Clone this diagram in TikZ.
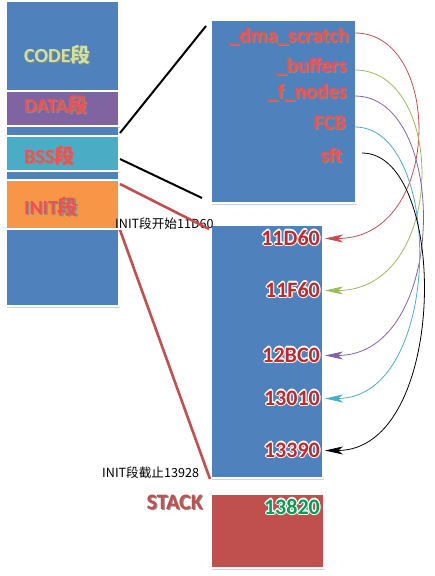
\documentclass[tikz,border=0pt]{standalone}
\usepackage{fontspec}
\setmainfont{Carlito}
\newfontfamily\cjk{Noto Sans CJK SC}
\usetikzlibrary{arrows.meta,shadows}

\definecolor{segblue}{HTML}{4F81BD}
\definecolor{segpurple}{HTML}{8064A2}
\definecolor{segcyan}{HTML}{4BACC6}
\definecolor{segorange}{HTML}{F79646}
\definecolor{segred}{HTML}{C0504D}
\definecolor{seggreen}{HTML}{9BBB59}
\definecolor{labred}{HTML}{F05050}
\definecolor{codegreen}{HTML}{D0E39A}
\definecolor{numred}{HTML}{C0282D}
\definecolor{numgreen}{HTML}{00A050}

% text with a soft drop shadow
\newcommand\shadowed[2]{\makebox[0pt][l]{\kern1.2pt\raisebox{-1.2pt}{\textcolor{black!45}{#2}}}\textcolor{#1}{#2}}
% text with a white rim
\newcommand\haloat[3]{\makebox[0pt][l]{\kern#1\raisebox{#2}{\textcolor{white}{#3}}}}
\newcommand\outlined[2]{%
  \makebox[0pt][l]{\kern1.4pt\raisebox{-1.8pt}{\textcolor{black!40}{#2}}}%
  \haloat{-1.2pt}{0pt}{#2}\haloat{1.2pt}{0pt}{#2}%
  \haloat{0pt}{1.2pt}{#2}\haloat{0pt}{-1.2pt}{#2}%
  \haloat{-.85pt}{.85pt}{#2}\haloat{.85pt}{.85pt}{#2}%
  \haloat{-.85pt}{-.85pt}{#2}\haloat{.85pt}{-.85pt}{#2}%
  \textcolor{#1}{#2}}

\begin{document}
\begin{tikzpicture}[
  x=1pt,
  y=-1pt,
  >={Stealth[length=18pt,width=8pt,inset=5pt]},
  segbox/.style={
    draw=white,
    line width=2pt,
    inner sep=0pt,
    drop shadow={shadow xshift=1.2pt, shadow yshift=-1.5pt, opacity=.35}
  },
  seglabel/.style={anchor=base west, inner sep=0pt, font=\fontsize{20}{20}\selectfont\bfseries},
  varlabel/.style={anchor=base east, inner sep=0pt, font=\fontsize{20.8}{21}\selectfont\bfseries},
  addrlabel/.style={anchor=base east, inner sep=0pt, font=\fontsize{22}{22}\selectfont\bfseries},
  note/.style={anchor=base west, inner sep=0pt, font=\cjk\fontsize{12.6}{13}\selectfont},
  zoomline/.style={line width=2pt},
  link/.style={->, line width=0.8pt}
]
\useasboundingbox (0,0) rectangle (435,576);

% ---------------------------------------------------------------------------
% memory image, left column
% ---------------------------------------------------------------------------
\node[segbox, fill=segblue, minimum width=113pt, minimum height=305pt] (mem) at (62.5,153.5) {};
\node[segbox, fill=segpurple, minimum width=113pt, minimum height=35pt] (data) at (62.5,108.5) {};
\node[segbox, fill=segcyan, minimum width=113pt, minimum height=35pt] (bss) at (62.5,153.5) {};
\node[segbox, fill=segorange, minimum width=113pt, minimum height=49pt] (init) at (62.5,204.5) {};

\node[seglabel] (codetext) at (24,62) {\shadowed{codegreen}{CODE{\cjk 段}}};
\node[seglabel] (datatext) at (24,112) {\shadowed{labred}{DATA{\cjk 段}}};
\node[seglabel] (bsstext) at (24,163) {\shadowed{labred}{BSS{\cjk 段}}};
\node[seglabel] (inittext) at (24,214) {\shadowed{labred}{INIT{\cjk 段}}};

% ---------------------------------------------------------------------------
% BSS variables, INIT region and stack
% ---------------------------------------------------------------------------
\node[segbox, fill=segblue, minimum width=145pt, minimum height=183pt] (vars) at (283.5,111.5) {};
\node[segbox, fill=segblue, minimum width=112pt, minimum height=253pt] (region) at (267,351.5) {};
\node[segbox, fill=segred, minimum width=113pt, minimum height=74pt] (stack) at (267.5,531) {};

\node[varlabel] (dma) at (349,42) {\shadowed{labred}{\_dma\_scratch}};
\node[varlabel] (buf) at (347,72) {\shadowed{labred}{\_buffers}};
\node[varlabel] (fnodes) at (347,98) {\shadowed{labred}{\_f\_nodes}};
\node[varlabel] (fcb) at (346,129) {\shadowed{labred}{FCB}};
\node[varlabel] (sft) at (342,162) {\shadowed{labred}{sft}};

\node[addrlabel] (a11D60) at (320,245) {\outlined{numred}{11D60}};
\node[addrlabel] (a11F60) at (320,297) {\outlined{numred}{11F60}};
\node[addrlabel] (a12BC0) at (320,362) {\outlined{numred}{12BC0}};
\node[addrlabel] (a13010) at (320,405) {\outlined{numred}{13010}};
\node[addrlabel] (a13390) at (320,457) {\outlined{numred}{13390}};
\node[addrlabel] (a13820) at (320,514) {\outlined{numgreen}{13820}};

\node[addrlabel] (stacktext) at (203,509) {\shadowed{segred}{STACK}};

\node[note] (initstart) at (115,228) {INIT段开始11D60};
\node[note] (initend) at (102,477) {INIT段截止13928};

% zoom lines
\draw[zoomline, black] ([yshift=2pt]bss.north east) -- ([xshift=-4pt,yshift=-7pt]vars.north west);
\draw[zoomline, black] ([yshift=-5.5pt]bss.east) -- ([xshift=-8pt,yshift=6pt]vars.south west);
\draw[zoomline, segred, line width=2.6pt] ([yshift=-5pt]init.north east) -- ([xshift=-1pt,yshift=-5pt]region.north west);
\draw[zoomline, segred, line width=2.6pt] (init.south east) -- (region.south west);

% variable -> address
\draw[link, segred] ([xshift=6pt,yshift=9pt]dma.base east) .. controls +(88,0) and +(118,0) .. ([xshift=5pt,yshift=6.5pt]a11D60.base east);
\draw[link, seggreen] ([xshift=8pt,yshift=2pt]buf.base east) .. controls +(92,0) and +(122,0) .. ([xshift=5pt,yshift=6.5pt]a11F60.base east);
\draw[link, segpurple] ([xshift=8pt,yshift=2pt]fnodes.base east) .. controls +(94,0) and +(124,0) .. ([xshift=5pt,yshift=6.5pt]a12BC0.base east);
\draw[link, segcyan] ([xshift=9pt,yshift=2pt]fcb.base east) .. controls +(89,0) and +(119,0) .. ([xshift=5pt,yshift=6.5pt]a13010.base east);
\draw[link, black] ([xshift=20pt,yshift=9pt]sft.base east) .. controls +(87,0) and +(124,0) .. ([xshift=5pt,yshift=6.5pt]a13390.base east);

\end{tikzpicture}
\end{document}
